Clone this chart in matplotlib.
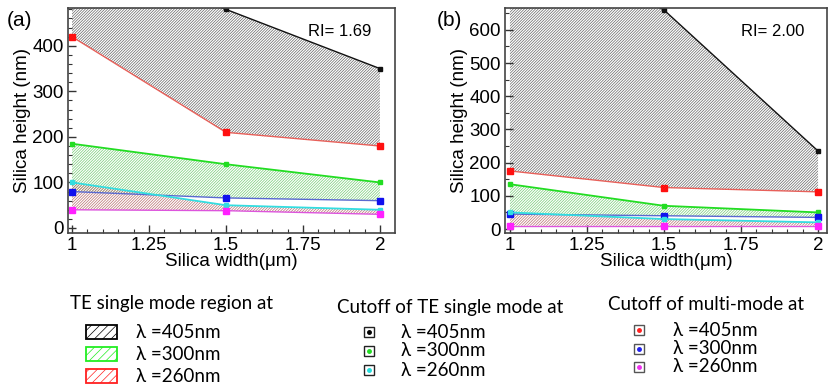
import matplotlib
matplotlib.use("Agg")
import matplotlib.pyplot as plt
from matplotlib.patches import Rectangle
from matplotlib.ticker import MultipleLocator

plt.rcParams['font.family'] = ['Liberation Sans', 'DejaVu Sans']
plt.rcParams['hatch.linewidth'] = 0.5

# Silica width (um)
widths = [1.0, 1.5, 2.0]

# Panel (a): RI = 1.69  (silica height, nm)
a_te405 = [600, 480, 350]
a_mm405 = [420, 210, 180]
a_te300 = [185, 140, 100]
a_mm300 = [80, 66, 60]
a_te260 = [100, 50, 40]
a_mm260 = [40, 38, 30]

# Panel (b): RI = 2.00  (silica height, nm)
b_te405 = [900, 660, 235]
b_mm405 = [175, 125, 112]
b_te300 = [135, 70, 50]
b_mm300 = [45, 40, 35]
b_te260 = [50, 30, 20]
b_mm260 = [10, 10, 10]

x_ticks = [1, 1.25, 1.5, 1.75, 2]
x_tick_labels = ['1', '1.25', '1.5', '1.75', '2']

legend_titles = ['TE single mode region at', 'Cutoff of TE single mode at',
                 'Cutoff of multi-mode at']
legend_labels = ['\u03bb =405nm', '\u03bb =300nm', '\u03bb =260nm']

C_BLACK = '#111111'
C_RED = '#e8605a'
C_GREEN = '#22dd22'
C_BLUE = '#5a6ad0'
C_CYAN = '#33dde0'
C_MAG = '#dd55dd'

DENSE = '/' * 12

fig = plt.figure(figsize=(8.29, 3.86), dpi=100)


def panel(rect, te405, mm405, te300, mm300, te260, mm260, ylim, yticks,
          yminor, xlim, ri):
    ax = fig.add_axes(rect)
    # hatched single-mode regions
    ax.fill_between(widths, te405, mm405, facecolor='none', edgecolor='#666666',
                    hatch=DENSE, linewidth=0)
    ax.fill_between(widths, te300, mm300, facecolor='none', edgecolor='#77cc77',
                    hatch=DENSE, linewidth=0)
    ax.fill_between(widths, te260, mm260, facecolor='none', edgecolor='#b87070',
                    hatch=DENSE, linewidth=0)
    # cutoff curves
    ax.plot(widths, te405, color=C_BLACK, lw=1.0, marker='s', ms=2.5)
    ax.plot(widths, mm405, color=C_RED, lw=1.0, marker='s', ms=4,
            mfc='#ff1010', mec='#ff1010')
    ax.plot(widths, te300, color=C_GREEN, lw=1.3, marker='s', ms=2.5)
    ax.plot(widths, mm300, color=C_BLUE, lw=1.0, marker='s', ms=4,
            mfc='#1010ee', mec='#1010ee')
    ax.plot(widths, te260, color=C_CYAN, lw=1.3, marker='s', ms=3)
    ax.plot(widths, mm260, color=C_MAG, lw=1.0, marker='s', ms=4,
            mfc='#ff20ff', mec='#ff20ff')

    ax.set_xlim(*xlim)
    ax.set_ylim(*ylim)
    ax.set_xticks(x_ticks)
    ax.set_xticklabels(x_tick_labels)
    ax.set_yticks(yticks)
    ax.xaxis.set_minor_locator(MultipleLocator(0.05))
    ax.yaxis.set_minor_locator(MultipleLocator(yminor))
    ax.tick_params(which='both', direction='in', top=False, right=False,
                   labelsize=13.5, color='#333333', pad=3)
    ax.tick_params(which='major', length=6, width=1.0)
    ax.tick_params(which='minor', length=3, width=0.8)
    for s in ax.spines.values():
        s.set_color('#444444')
        s.set_linewidth(1.2)
    ax.set_xlabel('Silica width(\u03bcm)', fontsize=13.5, labelpad=-1)
    ax.set_ylabel('Silica height (nm)', fontsize=13.5, labelpad=1)
    ax.text(0.83, 0.895, ri, transform=ax.transAxes, fontsize=12,
            ha='center', va='center')
    return ax


ax_a = panel([68 / 829, 1 - 233 / 386, 327 / 829, 225 / 386],
             a_te405, a_mm405, a_te300, a_mm300, a_te260, a_mm260,
             (-11, 483), [0, 100, 200, 300, 400], 20, (0.987, 2.049),
             'RI= 1.69')
ax_b = panel([505 / 829, 1 - 233 / 386, 322 / 829, 225 / 386],
             b_te405, b_mm405, b_te300, b_mm300, b_te260, b_mm260,
             (-12, 666), [0, 100, 200, 300, 400, 500, 600], 50, (0.984, 2.029),
             'RI= 2.00')

fig.text(20 / 829, 1 - 20 / 386, '(a)', fontsize=15, ha='center', va='center')
fig.text(449 / 829, 1 - 20 / 386, '(b)', fontsize=15, ha='center', va='center')

# legend block drawn in pixel coordinates on an overlay
lg = fig.add_axes([0, 0, 1, 1], zorder=-1)
lg.set_xlim(0, 829)
lg.set_ylim(386, 0)
lg.axis('off')
LF = ['Lato', 'DejaVu Sans']
FS = 13.5

lg.text(70, 304, legend_titles[0], fontsize=FS, family=LF, va='center')
lg.text(337, 308, legend_titles[1], fontsize=FS, family=LF, va='center')
lg.text(608, 305, legend_titles[2], fontsize=FS, family=LF, va='center')

region_cols = ['#000000', '#22ee22', '#ff2020']
region_y = [332, 354, 376]
for col, yy, lab in zip(region_cols, region_y, legend_labels):
    lg.add_patch(Rectangle((86, yy - 7), 31, 14, facecolor='white',
                           edgecolor=col, hatch='////', linewidth=1.3))
    lg.text(136, yy, lab, fontsize=FS, family=LF, va='center')

te_cols = ['#000000', '#22dd22', '#22dddd']
te_y = [332, 351, 370]
for col, yy, lab in zip(te_cols, te_y, legend_labels):
    lg.plot([369], [yy], marker='s', ms=7, mfc='white', mec='#222222', mew=1.0)
    lg.plot([369], [yy], marker='o', ms=2.5, mfc=col, mec=col)
    lg.text(401, yy, lab, fontsize=FS, family=LF, va='center')

mm_cols = ['#ff2020', '#2020ee', '#ee30ee']
mm_y = [330, 349, 367]
for col, yy, lab in zip(mm_cols, mm_y, legend_labels):
    lg.plot([639], [yy], marker='s', ms=7, mfc='white', mec='#555555', mew=1.0)
    lg.plot([639], [yy], marker='o', ms=2.5, mfc=col, mec=col)
    lg.text(673, yy, lab, fontsize=FS, family=LF, va='center')

fig.savefig('out.png', dpi=100)
